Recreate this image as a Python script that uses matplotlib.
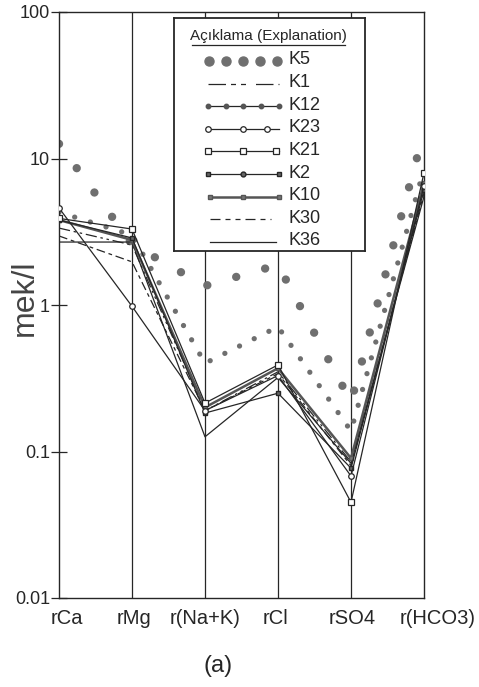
import numpy as np
import matplotlib
matplotlib.use("Agg")
import matplotlib.pyplot as plt
from matplotlib.transforms import ScaledTranslation
from matplotlib import font_manager

# ---- data (meq/l) ----
ions = ['rCa', 'rMg', 'r(Na+K)', 'rCl', 'rSO4', 'r(HCO3)']

K5 = [12.6, 2.6, 1.35, 1.88, 0.218, 15.2]
K12 = [4.3, 3.0, 0.40, 0.71, 0.138, 8.5]
K1 = [3.35, 2.57, 0.19, 0.35, 0.085, 6.8]
K23 = [4.6, 0.98, 0.19, 0.33, 0.068, 6.5]
K21 = [3.9, 3.3, 0.214, 0.39, 0.045, 8.0]
K2 = [3.8, 2.87, 0.183, 0.25, 0.077, 6.1]
K10 = [3.8, 2.78, 0.20, 0.37, 0.09, 6.8]
K30 = [2.96, 1.97, 0.19, 0.34, 0.08, 5.8]
K36 = [2.69, 2.69, 0.126, 0.32, 0.083, 5.5]

yticks = [0.01, 0.1, 1, 10, 100]
ytick_labels = ['0.01', '0.1', '1', '10', '100']

# ---- fonts ----
installed = {f.name for f in font_manager.fontManager.ttflist}
narrow = 'Liberation Sans Narrow' if 'Liberation Sans Narrow' in installed else 'Liberation Sans'
plt.rcParams['font.family'] = ['Liberation Sans', 'DejaVu Sans']

INK = '#262626'
DOT = '#6f6f6f'

W, H = 479, 687
fig = plt.figure(figsize=(W / 100, H / 100), dpi=100)


def px_box(left, top, right, bottom):
    return [left / W, 1 - bottom / H, (right - left) / W, (bottom - top) / H]


ax = fig.add_axes(px_box(59, 12, 424, 598))
x = np.arange(len(ions))

ax.set_yscale('log')
ax.set_ylim(0.01, 100)
ax.set_xlim(0, len(ions) - 1)

for xi in x[1:-1]:
    ax.axvline(xi, color=INK, lw=0.9, zorder=1)
for s in ax.spines.values():
    s.set_color(INK)
    s.set_linewidth(1.0)

# big dots (K5) and medium dots (K12), drawn as round-cap dotted lines
ax.plot(x, K5, color=DOT, lw=6.0, linestyle=(0, (0.01, 3.6)),
        dash_capstyle='round', zorder=2)
ax.plot(x, K12, color=DOT, lw=3.8, linestyle=(0, (0.01, 3.1)),
        dash_capstyle='round', zorder=2)

ax.plot(x, K36, color=INK, lw=0.9, zorder=3)
ax.plot(x, K30, color=INK, lw=0.9, linestyle=(0, (7, 3, 3, 3)), zorder=3)
ax.plot(x, K1, color=INK, lw=0.9, linestyle=(0, (9, 3, 2, 3, 2, 3)), zorder=3)
ax.plot(x, K10, color='#555555', lw=1.8, marker='s', ms=3.5,
        mfc='#777777', mec='#555555', zorder=4)
ax.plot(x, K2, color=INK, lw=0.9, marker='s', ms=3.5,
        mfc='#666666', mec=INK, zorder=4)
ax.plot(x, K21, color=INK, lw=0.9, marker='s', ms=4,
        mfc='white', mec=INK, mew=0.9, zorder=5)
ax.plot(x, K23, color=INK, lw=0.9, marker='o', ms=4,
        mfc='white', mec=INK, mew=0.9, zorder=5)

ax.set_yticks(yticks)
ax.set_yticklabels(ytick_labels, fontfamily=narrow, fontsize=13, color=INK)
ax.yaxis.set_minor_locator(matplotlib.ticker.NullLocator())
ax.tick_params(axis='y', direction='inout', length=12, width=0.9,
               color=INK, pad=0.5)

ax.set_xticks(x)
ax.set_xticklabels(ions, fontfamily=narrow, fontsize=14.5, color=INK)
ax.tick_params(axis='x', length=0, pad=8)
shifts = [8, 2, 0, -3, 1, 14]
for lab, dx in zip(ax.get_xticklabels(), shifts):
    lab.set_transform(lab.get_transform() + ScaledTranslation(dx / 100, 0, fig.dpi_scale_trans))

fig.text(25 / W, 1 - 298 / H, 'mek/l', rotation=90, fontsize=23,
         color='#444444', ha='center', va='center')
fig.text(218 / W, 1 - 666 / H, '(a)', fontsize=17, color=INK,
         ha='center', va='center')

# ---- legend box (drawn in its own axes, pixel units) ----
lg = fig.add_axes(px_box(174, 18, 365, 251))
lg.set_xlim(174, 365)
lg.set_ylim(251, 18)
lg.set_xticks([])
lg.set_yticks([])
lg.set_facecolor('white')
for s in lg.spines.values():
    s.set_color(INK)
    s.set_linewidth(1.3)

lg.text(268, 36, 'Açıklama (Explanation)', fontfamily=narrow, fontsize=11,
        color=INK, ha='center', va='center')
lg.plot([192, 345], [45, 45], color=INK, lw=0.9)

names = ['K5', 'K1', 'K12', 'K23', 'K21', 'K2', 'K10', 'K30', 'K36']
x0, x1 = 208, 279
xm = (x0 + x1) / 2
for i, name in enumerate(names):
    y = 61 + 22.6 * i
    lg.text(289, y - 1, name, fontfamily=narrow, fontsize=13, color=INK,
            ha='left', va='center')
    if name == 'K5':
        lg.plot(np.linspace(x0 + 1, x1 - 2, 5), [y] * 5, 'o', ms=6.5, color=DOT)
    elif name == 'K1':
        lg.plot([x0, x1], [y, y], color=INK, lw=0.9, linestyle=(0, (14, 4, 4, 4, 4, 8)))
    elif name == 'K12':
        lg.plot(np.linspace(x0, x1, 5), [y] * 5, '-o', color=INK, lw=0.9,
                ms=3.2, mfc='#555555', mec='#555555')
    elif name == 'K23':
        lg.plot([x0, x1], [y, y], color=INK, lw=0.9)
        lg.plot([x0, xm, x1 - 12], [y] * 3, 'o', ms=4, mfc='white', mec=INK, mew=0.9)
    elif name == 'K21':
        lg.plot([x0, x1], [y, y], color=INK, lw=0.9)
        lg.plot([x0, xm, x1 - 3], [y] * 3, 's', ms=4, mfc='white', mec=INK, mew=0.9)
    elif name == 'K2':
        lg.plot([x0, x1], [y, y], color=INK, lw=0.9)
        lg.plot([x0, x1], [y, y], 's', ms=3.5, mfc='#666666', mec=INK)
        lg.plot([xm], [y], 'o', ms=3.5, mfc='#666666', mec=INK)
    elif name == 'K10':
        lg.plot([x0 + 2, xm, x1], [y] * 3, '-s', color='#555555', lw=1.8,
                ms=3.5, mfc='#777777', mec='#555555')
    elif name == 'K30':
        lg.plot([x0 + 2, x1 - 8], [y, y], color=INK, lw=0.9, linestyle=(0, (8, 4, 4, 4, 4, 4)))
    else:
        lg.plot([x0 + 2, x1 - 3], [y, y], color=INK, lw=0.9)

fig.savefig('out.png', dpi=100, facecolor='white')
